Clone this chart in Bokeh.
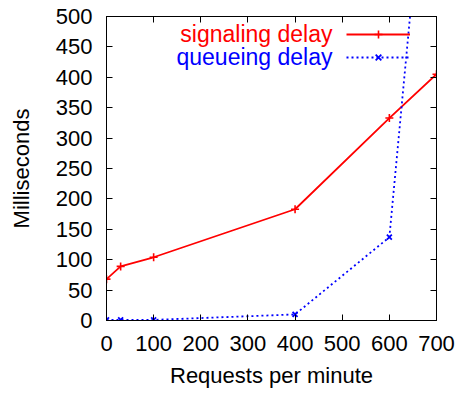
from bokeh.plotting import figure
from bokeh.models import Range1d, LinearAxis, FixedTicker, Label, Legend, LegendItem
from bokeh.embed import file_html
from bokeh.resources import INLINE

# data
requests = [0, 30, 100, 400, 600, 700]
signaling_delay = [68, 89, 104, 183, 333, 405]
queue_x = [0, 30, 100, 400, 600, 700]
queueing_delay = [1, 1, 1, 10, 137, 965]

x_ticks = [0, 100, 200, 300, 400, 500, 600, 700]
y_ticks = [0, 50, 100, 150, 200, 250, 300, 350, 400, 450, 500]

FONT = "Liberation Sans"
FS = "22px"

p = figure(width=458, height=392, output_backend="svg", toolbar_location=None,
           x_range=Range1d(0, 700), y_range=Range1d(0, 500),
           min_border_left=106, min_border_right=22, min_border_top=16, min_border_bottom=72)
p.xgrid.visible = False
p.ygrid.visible = False
p.outline_line_color = "black"
p.outline_line_width = 1

for ax in (p.xaxis[0], p.yaxis[0]):
    ax.major_tick_in = 6
    ax.major_tick_out = 0
    ax.minor_tick_in = 0
    ax.minor_tick_out = 0
    ax.major_label_text_font = FONT
    ax.major_label_text_font_size = FS
    ax.major_label_text_color = "black"
    ax.axis_label_text_font = FONT
    ax.axis_label_text_font_size = FS
    ax.axis_label_text_font_style = "normal"
    ax.axis_label_text_color = "black"
    ax.axis_line_color = "black"

p.xaxis[0].ticker = FixedTicker(ticks=x_ticks)
p.yaxis[0].ticker = FixedTicker(ticks=y_ticks)
p.xaxis[0].axis_label = "Requests per minute"
p.yaxis[0].axis_label = "Milliseconds"
p.xaxis[0].major_label_standoff = 15
p.yaxis[0].major_label_standoff = 14
p.xaxis[0].axis_label_standoff = 9
p.yaxis[0].axis_label_standoff = 19

top = LinearAxis(ticker=FixedTicker(ticks=x_ticks),
                 major_label_overrides={t: "" for t in x_ticks},
                 major_label_standoff=0, major_label_text_font_size="1px",
                 major_tick_in=6, major_tick_out=0, minor_tick_in=0, minor_tick_out=0)
right = LinearAxis(ticker=FixedTicker(ticks=y_ticks),
                   major_label_overrides={t: "" for t in y_ticks},
                   major_label_standoff=0, major_label_text_font_size="1px",
                   major_tick_in=6, major_tick_out=0, minor_tick_in=0, minor_tick_out=0)
p.add_layout(top, "above")
p.add_layout(right, "right")

r1 = p.line(requests, signaling_delay, line_color="#ff0000", line_width=1.8)
m1 = p.scatter(requests, signaling_delay, marker="cross", size=8, line_color="#ff0000", line_width=1.6)
r2 = p.line(queue_x, queueing_delay, line_color="#0000ff", line_width=1.8, line_dash="2 3")
m2 = p.scatter(queue_x, queueing_delay, marker="x", size=7, line_color="#0000ff", line_width=1.8)

legend = Legend(items=[LegendItem(label=" ", renderers=[r1, m1]),
                       LegendItem(label=" ", renderers=[r2, m2])],
                location=(240, 253), glyph_width=64, glyph_height=20, spacing=3,
                label_width=0, label_standoff=0, label_text_font_size="1px",
                padding=0, margin=0,
                background_fill_alpha=0, border_line_alpha=0)
p.add_layout(legend, "center")

p.add_layout(Label(x=226, y=287, x_units="screen", y_units="screen", text="signaling delay",
                   text_color="#ff0000", text_font=FONT, text_font_size="23px",
                   text_align="right", text_baseline="middle"))
p.add_layout(Label(x=226, y=264, x_units="screen", y_units="screen", text="queueing delay",
                   text_color="#0000ff", text_font=FONT, text_font_size="23px",
                   text_align="right", text_baseline="middle"))

open("out.html", "w").write(file_html(p, INLINE))
